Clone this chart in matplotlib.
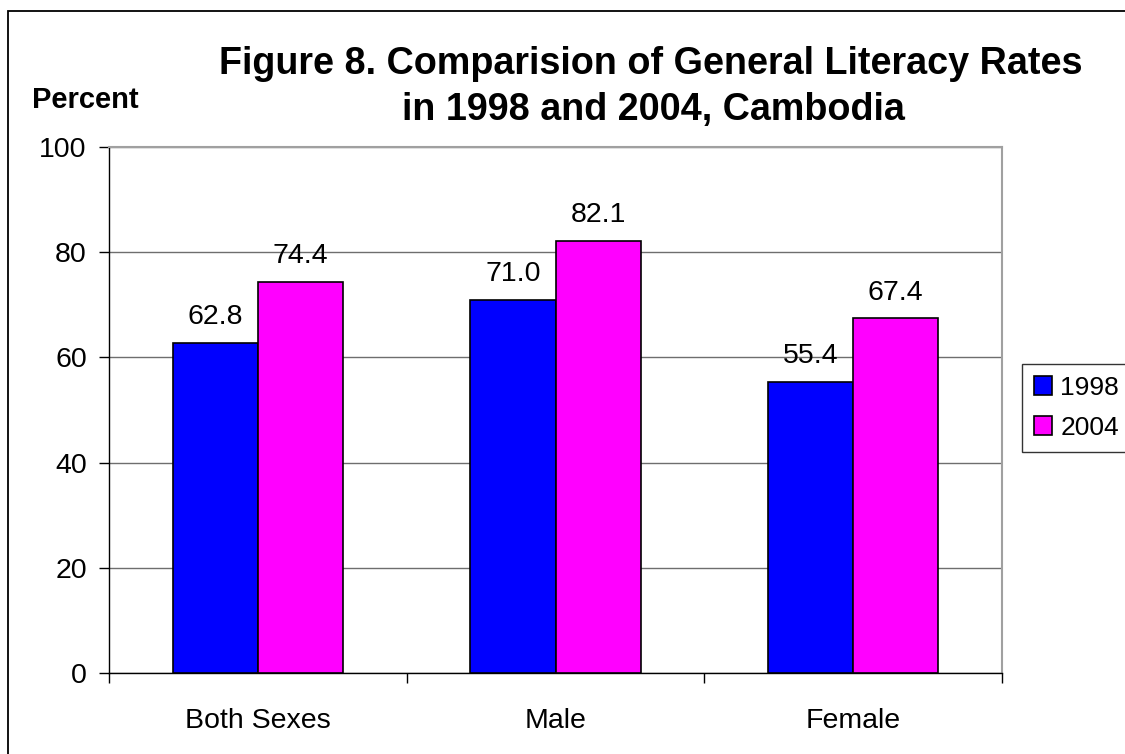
#!/usr/bin/env python3
"""Figure 8: literacy rates 1998 vs 2004, Cambodia — Excel-style grouped bars."""

import matplotlib

matplotlib.use("Agg")
import matplotlib.pyplot as plt
import numpy as np
from matplotlib.patches import Rectangle

OUT = "out.png"

CATEGORIES = ["Both Sexes", "Male", "Female"]
YEARS = ["1998", "2004"]
RATE_1998 = [62.8, 71.0, 55.4]
RATE_2004 = [74.4, 82.1, 67.4]
Y_TICKS = [0, 20, 40, 60, 80, 100]

BLUE = "#0000FF"
MAGENTA = "#FF00FF"
GRID = "#6e6e6e"
FRAME = "#a0a0a0"

TITLE_1 = "Figure 8. Comparision of General Literacy Rates"
TITLE_2 = "in 1998 and 2004, Cambodia"

W, H = 1125, 754


def main() -> None:
    plt.rcParams["font.family"] = ["Liberation Sans", "DejaVu Sans"]

    fig = plt.figure(figsize=(W / 100, H / 100), dpi=100)
    ax = fig.add_axes([109 / W, 1 - 673 / H, (1002 - 109) / W, (673 - 147) / H])

    x = np.arange(len(CATEGORIES))
    bw = 1 / 3.5  # Excel gap width 150%
    series = [(RATE_1998, BLUE, -bw / 2), (RATE_2004, MAGENTA, bw / 2)]
    for (vals, col, off), year in zip(series, YEARS):
        bars = ax.bar(x + off, vals, width=bw, color=col, edgecolor="black",
                      linewidth=1.2, label=year, zorder=3)
        for b, v in zip(bars, vals):
            ax.annotate(f"{v:.1f}", (b.get_x() + b.get_width() / 2, v),
                        xytext=(0, 13.5), textcoords="offset points",
                        ha="center", va="baseline", fontsize=20.5, zorder=4)

    ax.set_xlim(-0.5, len(CATEGORIES) - 0.5)
    ax.set_ylim(0, 100)

    # gridlines
    ax.set_yticks(Y_TICKS)
    ax.yaxis.grid(True, color=GRID, linewidth=1.0, zorder=0)
    ax.set_axisbelow(True)
    ax.tick_params(axis="y", direction="out", length=7, width=1, pad=9,
                   labelsize=20.5)

    # category labels centred, ticks at boundaries
    ax.set_xticks(x)
    ax.set_xticklabels(CATEGORIES)
    ax.tick_params(axis="x", which="major", length=0, pad=25, labelsize=20.5)
    ax.set_xticks(np.arange(len(CATEGORIES) + 1) - 0.5, minor=True)
    ax.tick_params(axis="x", which="minor", direction="out", length=7.5, width=1)

    for side in ("top", "right"):
        ax.spines[side].set_color(FRAME)
        ax.spines[side].set_linewidth(1.5)
    for side in ("left", "bottom"):
        ax.spines[side].set_color("black")
        ax.spines[side].set_linewidth(1.0)

    fig.text(651 / W, 1 - 74 / H, TITLE_1, ha="center", va="baseline",
             fontsize=27.2, fontweight="bold")
    fig.text(653 / W, 1 - 120 / H, TITLE_2, ha="center", va="baseline",
             fontsize=27.2, fontweight="bold")
    fig.text(32 / W, 1 - 108 / H, "Percent", ha="left", va="baseline",
             fontsize=21, fontweight="bold")

    # legend box runs off the right edge like the source; keep its labels inside
    leg = fig.legend(loc="upper left", bbox_to_anchor=(1022 / W, 1 - 364 / H),
                     fontsize=19, frameon=True, fancybox=False, shadow=False,
                     handlelength=0.7, handleheight=0.7, handletextpad=0.3,
                     labelspacing=0.6, borderpad=0.45, borderaxespad=0)
    leg.get_frame().set_edgecolor("black")
    leg.get_frame().set_linewidth(1.0)

    # chart area border (cropped on right and bottom)
    fig.add_artist(Rectangle((8 / W, -0.05), 1.2, 1.05 - 11 / H, fill=False,
                             edgecolor="black", linewidth=1.3,
                             transform=fig.transFigure))

    fig.savefig(OUT, dpi=100, facecolor="white")
    plt.close(fig)


if __name__ == "__main__":
    main()
